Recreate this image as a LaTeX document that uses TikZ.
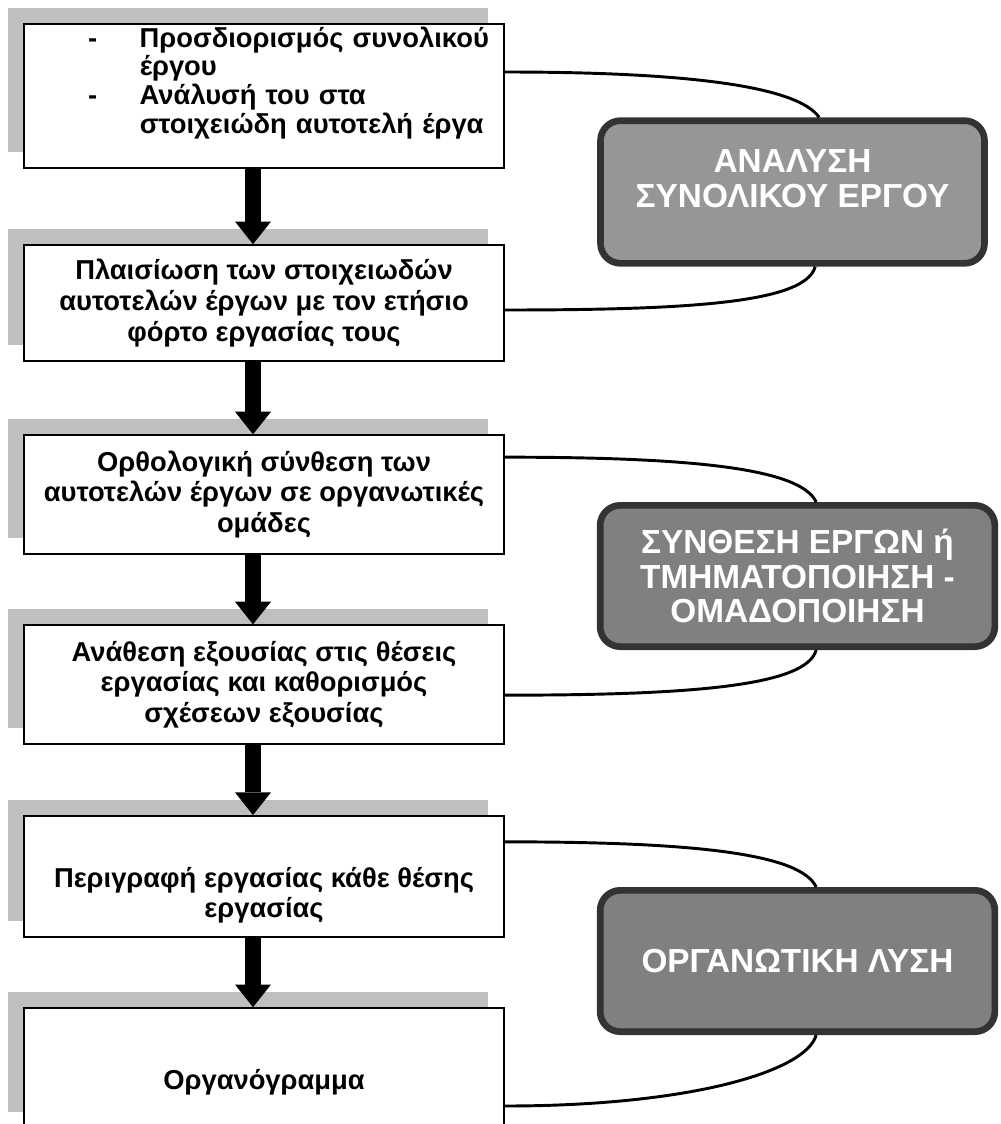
\documentclass[tikz,border=0pt]{standalone}
\usepackage{fontspec}
\setmainfont{Liberation Sans}
\usetikzlibrary{arrows.meta}
\usetikzlibrary{shadows}
\definecolor{shadowgray}{gray}{0.75}
\definecolor{phaseline}{HTML}{333333}
\definecolor{phaselight}{HTML}{969696}
\definecolor{phasedark}{HTML}{808080}
\tikzstyle{taskbox}=[draw, fill=white, line width=1.2pt, minimum width=360pt, inner xsep=0pt, align=center, font=\bfseries\fontsize{20.5}{23}\selectfont, drop shadow={shadow xshift=-12pt, shadow yshift=12pt, fill=shadowgray, opacity=1}]
\tikzstyle{phasebox}=[draw=phaseline, line width=5pt, rounded corners=15pt, fill=phasedark, text=white, align=center, font=\bfseries\fontsize{25}{26}\selectfont]
\tikzstyle{flow}=[line width=12pt, -{Triangle[width=27pt, length=17pt, line width=0pt]}]
\tikzstyle{link}=[line width=2.2pt]

\begin{document}
\begin{tikzpicture}[x=0.75pt, y=-0.75pt]
        \useasboundingbox (0, 0) rectangle (1000, 1124);
        \node[taskbox, minimum height=108pt, inner ysep=0pt, text width=360pt, align=left] (task1) at (264, 96) {\hspace*{48pt}\fontsize{20.5}{20.5}\selectfont\begin{tabular}{@{}l@{\hspace{32pt}}l@{}}
            - & Προσδιορισμός συνολικού\\
              & έργου\\
            - & Ανάλυσή του στα\\
              & στοιχειώδη αυτοτελή έργα\\[18pt]
          \end{tabular}};
        \node[taskbox, minimum height=87pt] (task2) at (264, 303) {Πλαισίωση των στοιχειωδών\\αυτοτελών έργων με τον ετήσιο\\φόρτο εργασίας τους};
        \node[taskbox, minimum height=89pt] (task3) at (264, 494.5) {Ορθολογική σύνθεση των\\αυτοτελών έργων σε οργανωτικές\\ομάδες};
        \node[taskbox, minimum height=89pt] (task4) at (264, 684.5) {Ανάθεση εξουσίας στις θέσεις\\εργασίας και καθορισμός\\σχέσεων εξουσίας};
        \node[taskbox, minimum height=91pt] (task5) at (264, 876.5) {\mbox{}\\[20pt]Περιγραφή εργασίας κάθε θέσης\\εργασίας};
        \node[taskbox, minimum height=90pt] (task6) at (264, 1068) {\mbox{}\\[14pt]Οργανόγραμμα};
        \node[phasebox, fill=phaselight, minimum width=288pt, minimum height=107pt] (analysis) at (792.5, 192) {ΑΝΑΛΥΣΗ\\ΣΥΝΟΛΙΚΟΥ ΕΡΓΟΥ\\[-6pt]\mbox{}};
        \node[phasebox, minimum width=296pt, minimum height=106pt] (grouping) at (797.5, 576) {ΣΥΝΘΕΣΗ ΕΡΓΩΝ ή\\ΤΜΗΜΑΤΟΠΟΙΗΣΗ -\\ΟΜΑΔΟΠΟΙΗΣΗ};
        \node[phasebox, minimum width=296pt, minimum height=106pt] (solution) at (797.5, 961) {ΟΡΓΑΝΩΤΙΚΗ ΛΥΣΗ};
        \draw[flow] ([xshift=-8.25pt]task1.south) -- ([xshift=-8.25pt]task2.north);
        \draw[flow] ([xshift=-8.25pt]task2.south) -- ([xshift=-8.25pt]task3.north);
        \draw[flow] ([xshift=-8.25pt]task3.south) -- ([xshift=-8.25pt]task4.north);
        \draw[flow] ([xshift=-8.25pt]task4.south) -- ([xshift=-8.25pt]task5.north);
        \draw[flow] ([xshift=-8.25pt]task5.south) -- ([xshift=-8.25pt]task6.north);
        \draw[link] ([yshift=18pt]task1.east) .. controls +(0:140pt) and +(125:28pt) .. ([xshift=20pt]analysis.north);
        \draw[link] ([xshift=17pt]analysis.south) .. controls +(-105:28pt) and +(0:140pt) .. ([yshift=-5.25pt]task2.east);
        \draw[link] ([yshift=28pt]task3.east) .. controls +(0:140pt) and +(115:28pt) .. ([xshift=14pt]grouping.north);
        \draw[link] ([xshift=14pt]grouping.south) .. controls +(-105:28pt) and +(0:140pt) .. ([yshift=-8pt]task4.east);
        \draw[link] ([yshift=26pt]task5.east) .. controls +(0:140pt) and +(115:28pt) .. ([xshift=14pt]solution.north);
        \draw[link] ([xshift=14pt]solution.south) .. controls +(-105:28pt) and +(0:140pt) .. ([yshift=-28.5pt]task6.east);
    \end{tikzpicture}
\end{document}
